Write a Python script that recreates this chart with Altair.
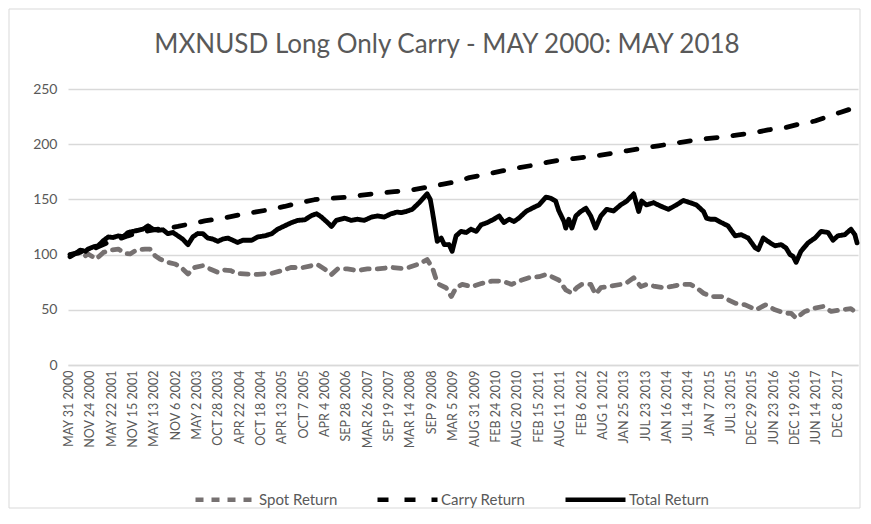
import altair as alt
import pandas as pd

# ---- data (time as decimal years) ----
total_t = [
    2000.45, 2000.57, 2000.68, 2000.80, 2000.86, 2000.98, 2001.09, 2001.21, 2001.32, 2001.43,
    2001.55, 2001.66, 2001.77, 2001.89, 2002.00, 2002.11, 2002.23, 2002.34, 2002.46, 2002.57,
    2002.68, 2002.80, 2002.91, 2003.02, 2003.14, 2003.25, 2003.36, 2003.48, 2003.59, 2003.71,
    2003.82, 2003.93, 2004.05, 2004.16, 2004.27, 2004.39, 2004.50, 2004.59, 2004.73, 2004.89,
    2005.05, 2005.18, 2005.34, 2005.50, 2005.64, 2005.80, 2005.96, 2006.07, 2006.18, 2006.32,
    2006.41, 2006.52, 2006.71, 2006.86, 2007.00, 2007.16, 2007.32, 2007.46, 2007.61, 2007.77,
    2007.91, 2008.00, 2008.11, 2008.25, 2008.41, 2008.59, 2008.66, 2008.71, 2008.77, 2008.82,
    2008.91, 2008.98, 2009.09, 2009.16, 2009.25, 2009.36, 2009.48, 2009.59, 2009.71, 2009.82,
    2009.96, 2010.11, 2010.23, 2010.34, 2010.46, 2010.57, 2010.68, 2010.84, 2010.98, 2011.14,
    2011.30, 2011.41, 2011.52, 2011.59, 2011.71, 2011.75, 2011.82, 2011.89, 2011.98, 2012.09,
    2012.21, 2012.32, 2012.43, 2012.55, 2012.68, 2012.84, 2013.00, 2013.14, 2013.30, 2013.41,
    2013.48, 2013.59, 2013.75, 2013.91, 2014.09, 2014.27, 2014.43, 2014.59, 2014.73, 2014.89,
    2014.96, 2015.05, 2015.16, 2015.30, 2015.45, 2015.61, 2015.75, 2015.91, 2016.07, 2016.14,
    2016.25, 2016.41, 2016.52, 2016.66, 2016.77, 2016.86, 2016.93, 2017.00, 2017.11, 2017.27,
    2017.43, 2017.57, 2017.73, 2017.84, 2017.95, 2018.11, 2018.25, 2018.34, 2018.39,
]
total_v = [
    98, 101, 104, 103, 105, 107, 108, 112.7, 116, 115.5,
    117, 116, 120, 121, 122, 123, 126, 123, 122, 122.5,
    119, 120, 117, 114, 109, 116, 119, 119, 115, 114,
    112, 114, 115, 113, 111, 113, 113, 113, 116, 117,
    119, 123, 126, 129, 131, 131.5, 135.5, 137, 134, 129,
    125.5, 131, 133, 131, 132, 131, 134, 135, 134, 137,
    138.5, 138, 139, 141, 147, 155, 150, 139, 124, 112,
    115, 109, 109, 103, 117, 121, 120, 123, 121, 127,
    129, 132, 135, 129, 132, 130, 133, 139, 142, 145,
    152, 151, 148.5, 140, 130, 124, 132, 124, 135, 139,
    142, 135, 124, 135, 141, 139.5, 145, 148.5, 155, 139,
    148.5, 145, 147, 144, 141, 145, 149, 147, 145, 139,
    133, 132, 132, 129, 126, 117, 118, 115, 106, 104.5,
    115, 110.6, 108, 109, 106, 100, 98.5, 93, 103, 110.6,
    115, 121, 120, 113, 117, 118, 123, 118, 110.6,
]

spot_t = [
    2000.45, 2000.57, 2000.68, 2000.80, 2000.86, 2001.05, 2001.21, 2001.36, 2001.55, 2001.71,
    2001.82, 2001.96, 2002.16, 2002.27, 2002.39, 2002.50, 2002.68, 2002.84, 2002.98, 2003.14,
    2003.30, 2003.48, 2003.64, 2003.82, 2003.98, 2004.11, 2004.27, 2004.50, 2004.73, 2005.05,
    2005.27, 2005.50, 2005.73, 2005.96, 2006.09, 2006.25, 2006.41, 2006.55, 2006.77, 2007.00,
    2007.23, 2007.46, 2007.77, 2008.00, 2008.18, 2008.41, 2008.59, 2008.71, 2008.80, 2008.86,
    2009.02, 2009.14, 2009.25, 2009.39, 2009.61, 2009.84, 2010.07, 2010.30, 2010.52, 2010.68,
    2010.91, 2011.14, 2011.30, 2011.43, 2011.59, 2011.75, 2011.89, 2012.00, 2012.11, 2012.32,
    2012.43, 2012.55, 2012.77, 2013.00, 2013.14, 2013.30, 2013.46, 2013.59, 2013.75, 2013.98,
    2014.20, 2014.39, 2014.59, 2014.73, 2014.89, 2015.07, 2015.30, 2015.61, 2015.84, 2015.98,
    2016.09, 2016.30, 2016.52, 2016.75, 2016.89, 2017.00, 2017.20, 2017.43, 2017.61, 2017.80,
    2018.02, 2018.25, 2018.39,
]
spot_v = [
    100, 101, 101, 99, 100.6, 96, 102, 104, 105, 101,
    100.6, 104, 105, 105, 99, 96, 93, 91.5, 88.5, 82.4,
    88.5, 90, 87, 84, 86, 85.5, 83, 82.4, 82, 83,
    85.5, 88.5, 88, 90, 91, 87, 82, 87, 87, 85.5,
    87, 87, 88.5, 87.5, 88.5, 91.5, 95.5, 88, 77, 73,
    70, 62, 70, 73, 71, 74, 76, 76, 73, 76,
    79, 80, 82, 80, 77, 68, 65, 70, 73, 73,
    64, 70, 71.5, 73, 74.5, 79, 71, 73, 71.5, 70,
    71.5, 73, 73, 70, 65, 62, 62, 56, 54.5, 52,
    50, 54.5, 50, 47, 46.7, 42.4, 48.5, 51.5, 53, 48.5,
    50, 51, 47,
]

carry_t = [
    2000.45, 2000.68, 2000.91, 2001.09, 2001.32, 2001.55, 2001.77, 2002.00, 2002.23, 2002.46,
    2002.68, 2002.91, 2003.21, 2003.52, 2003.98, 2004.43, 2004.89, 2005.34, 2005.68, 2006.02,
    2006.36, 2006.75, 2007.11, 2007.50, 2007.84, 2008.23, 2008.59, 2008.93, 2009.25, 2009.55,
    2009.93, 2010.30, 2010.64, 2011.02, 2011.32, 2011.59, 2011.93, 2012.43, 2012.77, 2013.14,
    2013.52, 2013.86, 2014.20, 2014.59, 2014.96, 2015.32, 2015.68, 2016.07, 2016.36, 2016.75,
    2017.05, 2017.43, 2017.73, 2018.02, 2018.25, 2018.39,
]
carry_v = [
    100, 102, 104, 107, 111, 114, 117, 119.5, 121.5, 123,
    124, 125.5, 128, 130.5, 133.3, 137, 140, 143.6, 147, 149.7,
    151, 152, 153.8, 155.8, 157, 158.5, 161, 163.6, 166, 169.7,
    172.7, 175.8, 178.5, 181, 183.5, 185.5, 187, 189.4, 191.5, 194,
    196.5, 198.5, 200.7, 203, 205, 206.5, 208.5, 210.6, 213, 215,
    218, 221, 225, 229, 232, 234,
]

series_names = ["Spot Return", "Carry Return", "Total Return"]
series_colors = ["#767171", "#000000", "#000000"]
series_dashes = [[8, 8], [11, 16], [1, 0]]

tick_dates = [
    (2000, 5, 31), (2000, 11, 24), (2001, 5, 22), (2001, 11, 15), (2002, 5, 13),
    (2002, 11, 6), (2003, 5, 2), (2003, 10, 28), (2004, 4, 22), (2004, 10, 18),
    (2005, 4, 13), (2005, 10, 7), (2006, 4, 4), (2006, 9, 28), (2007, 3, 26),
    (2007, 9, 19), (2008, 3, 14), (2008, 9, 9), (2009, 3, 5), (2009, 8, 31),
    (2010, 2, 24), (2010, 8, 20), (2011, 2, 15), (2011, 8, 11), (2012, 2, 6),
    (2012, 8, 1), (2013, 1, 25), (2013, 7, 23), (2014, 1, 16), (2014, 7, 14),
    (2015, 1, 7), (2015, 7, 3), (2015, 12, 29), (2016, 6, 23), (2016, 12, 19),
    (2017, 6, 14), (2017, 12, 8),
]
y_ticks = [0, 50, 100, 150, 200, 250]
title_text = "MXNUSD Long Only Carry - MAY 2000: MAY 2018"

assert len(total_t) == len(total_v)
assert len(spot_t) == len(spot_v)
assert len(carry_t) == len(carry_v)


def to_date(t):
    y = int(t)
    start = pd.Timestamp(year=y, month=1, day=1)
    days = (pd.Timestamp(year=y + 1, month=1, day=1) - start).days
    return (start + pd.Timedelta(days=round((t - y) * days))).strftime("%Y-%m-%d")


rows = []
for name, ts, vs in [("Spot Return", spot_t, spot_v), ("Carry Return", carry_t, carry_v),
                     ("Total Return", total_t, total_v)]:
    for t, v in zip(ts, vs):
        rows.append({"date": to_date(t), "value": v, "series": name})
df = pd.DataFrame(rows)

FONT = "Lato"
GREY_TXT = "#595959"
GRID = "#d9d9d9"

legend = alt.Legend(
    title=None, orient="none", legendX=125, legendY=378, direction="horizontal",
    symbolType="stroke", symbolSize=3600, symbolStrokeWidth=4.5,
    labelFontSize=15, labelColor=GREY_TXT, labelFont=FONT, columnPadding=30, labelOffset=1,
)

lines = alt.Chart(df).mark_line(strokeWidth=4.8, strokeCap="round", strokeJoin="round").encode(
    x=alt.X(
        "date:T",
        scale=alt.Scale(type="utc", domain=[alt.DateTime(year=2000, month=5, date=28, utc=True),
                                            alt.DateTime(year=2018, month=5, date=31, utc=True)]),
        axis=alt.Axis(
            values=[alt.DateTime(year=y, month=m, date=d, utc=True) for (y, m, d) in tick_dates],
            labelExpr="upper(utcFormat(datum.value, '%b %-d %Y'))",
            labelAngle=270, title=None, grid=False, ticks=False, domainColor=GRID, domainWidth=1.3,
            labelColor=GREY_TXT, labelFontSize=12.5, labelFont=FONT, labelPadding=5, labelOverlap=False,
        ),
    ),
    y=alt.Y(
        "value:Q",
        scale=alt.Scale(domain=[0, 250]),
        axis=alt.Axis(values=y_ticks, title=None, domain=False, ticks=False, gridColor=GRID, gridWidth=1.3,
                      labelColor=GREY_TXT, labelFontSize=14, labelFont=FONT, labelPadding=11),
    ),
    color=alt.Color("series:N", scale=alt.Scale(domain=series_names, range=series_colors), legend=legend),
    strokeDash=alt.StrokeDash("series:N", scale=alt.Scale(domain=series_names, range=series_dashes), legend=legend),
)

border = alt.Chart(pd.DataFrame({"k": [0]})).mark_rect(fillOpacity=0, stroke=GRID, strokeWidth=1).encode(
    x=alt.value(-59), x2=alt.value(792), y=alt.value(-80), y2=alt.value(419)
)

title = alt.Chart(pd.DataFrame({"t": [title_text]})).mark_text(
    font=FONT, fontSize=26, fontWeight="normal", color=GREY_TXT, align="center", baseline="middle"
).encode(text="t:N", x=alt.value(379), y=alt.value(-44))

chart = alt.layer(border, lines, title).properties(
    width=790, height=276,
    padding={"left": 60, "top": 81, "right": 3, "bottom": 145},
    autosize=alt.AutoSizeParams(type="none"),
).configure_view(stroke=None)

chart.save("out.html", embed_options={"renderer": "svg", "actions": False})
